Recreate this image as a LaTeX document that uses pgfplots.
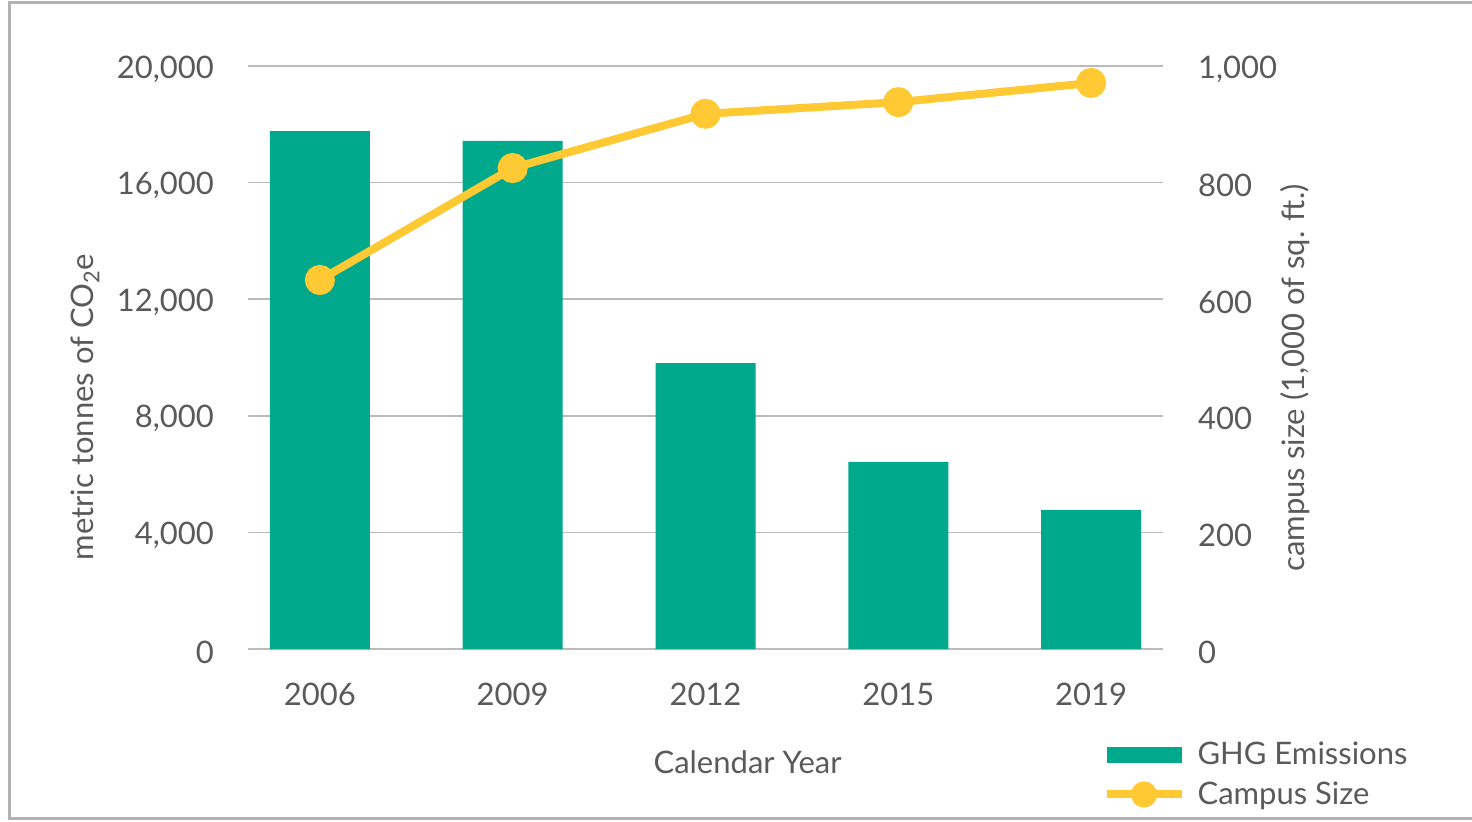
\documentclass[border=0pt]{standalone}
\usepackage{pgfplots}
\pgfplotsset{compat=1.18}
\usepackage{fontspec}
\setmainfont{Lato}

\definecolor{barteal}{HTML}{00A88C}
\definecolor{lineyel}{HTML}{FFC933}
\definecolor{txt}{HTML}{5A5A5A}
\definecolor{gridc}{HTML}{BBBBBB}

\pgfplotsset{
  common/.style={
    scale only axis, width=457.5pt, height=291.5pt,
    xmin=-0.373, xmax=4.373,
    ymin=0,
    scaled y ticks=false,
    /pgf/number format/assume math mode=true,
    tick label style={font=\fontsize{15.5}{18}\selectfont, text=txt},
    label style={font=\fontsize{15.5}{18}\selectfont, text=txt},
  }
}

\begin{document}
\begin{tikzpicture}
\begin{axis}[common,
  ymax=20000, ytick={0,4000,...,20000},
  axis x line*=bottom, axis y line*=left,
  x axis line style={gridc, line width=0.8pt},
  y axis line style={draw=none},
  ymajorgrids, grid style={gridc, line width=0.8pt},
  ytick style={draw=none},
  yticklabel style={xshift=-13.5pt, yshift=-1.5pt},
  xtick={0,...,4}, xticklabels={2006,2009,2012,2015,2019},
  xtick style={draw=none},
  xticklabel style={yshift=-13.5pt},
  extra x ticks={-0.373,0.5,1.5,2.5,3.5,4.373},
  extra x tick labels={},
  extra x tick style={tick style={draw=gridc, line width=0.8pt}, major tick length=6pt, xtick align=outside},
  xlabel={Calendar Year},
  xlabel style={at={(rel axis cs:0.546,0)}, anchor=north, yshift=-47.5pt},
  ylabel={metric tonnes of CO\textsubscript{2}e},
  ylabel style={at={(ticklabel cs:0.415,2pt)}, anchor=south},
  legend style={draw=none, fill=none, at={(rel axis cs:0.9335,-0.152)}, anchor=north west,
    font=\fontsize{15.5}{18}\selectfont, text=txt, row sep=3pt, inner sep=0pt,
    nodes={inner xsep=6pt}},
  legend cell align=left,
]
\addplot[ybar, bar width=50pt, fill=barteal, draw=none,
  legend image code/.code={\fill[barteal] (0pt,-4pt) rectangle (37.5pt,4pt);}]
  coordinates {(0,17770) (1,17430) (2,9810) (3,6420) (4,4770)};
\addlegendentry{GHG Emissions}
\addlegendimage{lineyel, line width=4pt,
  legend image code/.code={\draw[lineyel, line width=4pt] (0pt,0pt) -- (37.5pt,0pt);
    \fill[lineyel] (18.75pt,0pt) circle (4.5pt);}}
\addlegendentry{Campus Size}
\end{axis}
\begin{axis}[common,
  ymax=1000, ytick={0,200,...,1000},
  axis x line=none, axis y line*=right,
  y axis line style={draw=none},
  ytick style={draw=none},
  yticklabel style={xshift=14pt, yshift=-1.5pt},
  ylabel={campus size (1,000 of sq. ft.)},
  ylabel style={at={(ticklabel cs:0.465,-5pt)}, anchor=north},
]
\addplot[lineyel, line width=4pt, mark=*, mark size=5.5pt, mark options={fill=lineyel, draw=lineyel}]
  coordinates {(0,633) (1,825) (2,918) (3,938) (4,971)};
\end{axis}
\draw[gray!60, line width=1.5pt] (613pt,323.5pt) -- (-119pt,323.5pt) -- (-119pt,-84.5pt) -- (613pt,-84.5pt);
\pgfresetboundingbox
\path[use as bounding box] (-124pt,-86pt) rectangle (612pt,324.5pt);
\end{tikzpicture}
\end{document}
